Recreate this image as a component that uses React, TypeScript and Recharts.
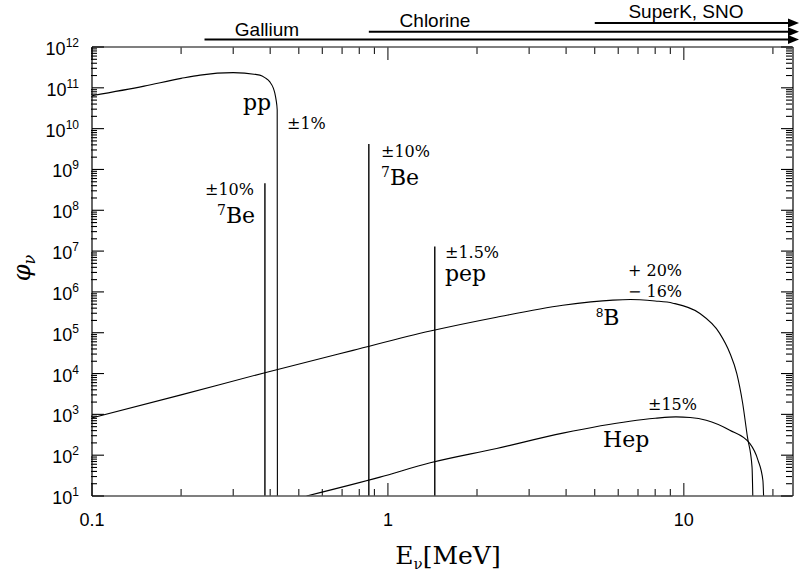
import { LineChart, Line, XAxis, YAxis, ReferenceLine } from 'recharts';

// neutrino energies (MeV) and fluxes
const ppEnergy = [0.1, 0.15, 0.2, 0.232, 0.3, 0.369, 0.385, 0.399, 0.41, 0.415, 0.419, 0.4225, 0.4232];
const ppFlux = [6.4e10, 1.1e11, 1.7e11, 2.05e11, 2.35e11, 2.05e11, 1.75e11, 1.4e11, 9.8e10, 7.3e10, 5e10, 2.9e10, 10];

const b8Energy = [0.1, 0.2, 0.384, 0.762, 1.39, 2.33, 3.9, 5.76, 6.6, 7.1, 8.0, 9.18, 11.3, 13.2, 14.3, 15.1, 15.8, 16.4, 17.0, 17.1];
const b8Flux = [820, 3.0e3, 1.05e4, 3.7e4, 1.1e5, 2.4e5, 4.7e5, 6.3e5, 6.5e5, 6.4e5, 6.0e5, 5.3e5, 3.0e5, 9.8e4, 3.2e4, 1.0e4, 1.9e3, 280, 51, 10];

const hepEnergy = [0.531, 0.94, 1.39, 2.33, 3.9, 6.57, 8.0, 9.4, 10.5, 11.9, 14.3, 16.7, 17.8, 18.5, 18.6];
const hepFlux = [10, 29, 65, 146, 347, 680, 800, 870, 840, 720, 410, 195, 76, 24, 10];

// line sources: energy and peak flux
const lineEnergy = [0.384, 0.862, 1.44];
const lineFlux = [4.6e8, 4.2e9, 1.3e7];

// detector thresholds (MeV) and the row each arrow sits on
const detectors = ['Gallium', 'Chlorine', 'SuperK, SNO'];
const detectorThreshold = [0.24, 0.862, 5.0];
const detectorRow = [1.53e12, 2.37e12, 3.87e12];

const xDomain = [0.1, 23.2];
const yDomain = [10, 1e12];

const xMajor = [0.1, 1, 10];
const xMinor = [0.2, 0.3, 0.4, 0.5, 0.6, 0.7, 0.8, 0.9, 2, 3, 4, 5, 6, 7, 8, 9, 20];
const yMajor = [1e1, 1e2, 1e3, 1e4, 1e5, 1e6, 1e7, 1e8, 1e9, 1e10, 1e11, 1e12];
const yMinor = yMajor.slice(0, -1).flatMap((d) => [2, 3, 4, 5, 6, 7, 8, 9].map((m) => m * d));

const pts = (es: number[], fs: number[]) => es.map((e, i) => ({ e, f: fs[i] }));

const sans = 'Liberation Sans, Arial, sans-serif';
const serif = 'DejaVu Serif, serif';
const tickStroke = { stroke: '#000', strokeWidth: 1.1 };

const YLabel = ({ y, payload }: any) => (
  <text x={79} y={y + 8} textAnchor="end" fontFamily={sans} fontSize={18} fill="#000">
    10<tspan dy={-8} fontSize={12}>{Math.round(Math.log10(payload.value))}</tspan>
  </text>
);
const NoLabel = () => <g />;

const XLabel = ({ x, y, payload }: any) => (
  <text x={x} y={y + 30} textAnchor="middle" fontFamily={sans} fontSize={18} fill="#000">
    {String(payload.value)}
  </text>
);

const xStub = (len: number) => (p: any) => {
  const t = Math.min(p.y1, p.y2);
  const b = Math.max(p.y1, p.y2);
  return (
    <g stroke="#000" strokeWidth={1}>
      <line x1={p.x1} x2={p.x1} y1={t} y2={t + len} />
      <line x1={p.x1} x2={p.x1} y1={b - len} y2={b} />
    </g>
  );
};

const Arrow = (props: any) => {
  const { x1, y1, x2, y2 } = props;
  return (
    <g>
      <line x1={x1} y1={y1} x2={x2 - 8} y2={y2} stroke="#000" strokeWidth={2} />
      <polygon points={`${x2},${y2} ${x2 - 11},${y2 - 4.5} ${x2 - 11},${y2 + 4.5}`} fill="#000" />
    </g>
  );
};

const detectorLabelPos = [
  { x: 267, y: 36 },
  { x: 435, y: 27 },
  { x: 686, y: 18 },
];

const yAxisBase = {
  dataKey: 'f',
  type: 'number' as const,
  scale: 'log' as const,
  domain: yDomain,
  allowDataOverflow: true,
  interval: 0 as const,
  width: 1,
  tickMargin: 0,
};

export default function App() {
  return (
    <div style={{ position: 'absolute', left: 0, top: 0 }}>
      <LineChart width={800} height={573} margin={{ top: 46, right: 6, bottom: 76, left: 90 }}>
        <XAxis
          dataKey="e"
          type="number"
          scale="log"
          domain={xDomain}
          allowDataOverflow
          ticks={xMajor}
          interval={0}
          height={1}
          tickSize={0}
          tickMargin={0}
          tickLine={false}
          axisLine={{ stroke: '#555', strokeWidth: 1.6 }}
          tick={XLabel}
        />
        <XAxis
          xAxisId="top"
          orientation="top"
          dataKey="e"
          type="number"
          scale="log"
          domain={xDomain}
          allowDataOverflow
          ticks={xMajor}
          height={1}
          tickLine={false}
          tick={false}
          axisLine={{ stroke: '#555', strokeWidth: 1.6 }}
        />
        <YAxis {...yAxisBase} ticks={yMajor} tickSize={-12} tickLine={tickStroke} axisLine={{ stroke: '#000', strokeWidth: 1.2 }} tick={YLabel} />
        <YAxis {...yAxisBase} yAxisId="minL" ticks={yMinor} tickSize={-6} tickLine={tickStroke} axisLine={false} tick={NoLabel} />
        <YAxis
          {...yAxisBase}
          yAxisId="right"
          orientation="right"
          ticks={yMajor}
          tickSize={-12}
          tickLine={tickStroke}
          axisLine={{ stroke: '#000', strokeWidth: 1.2 }}
          tick={NoLabel}
        />
        <YAxis {...yAxisBase} yAxisId="minR" orientation="right" ticks={yMinor} tickSize={-6} tickLine={tickStroke} axisLine={false} tick={NoLabel} />

        {xMajor.map((v) => (
          <ReferenceLine key={'xm' + v} x={v} shape={xStub(13)} />
        ))}
        {xMinor.map((v) => (
          <ReferenceLine key={'xn' + v} x={v} shape={xStub(7)} />
        ))}

        <Line data={pts(ppEnergy, ppFlux)} dataKey="f" type="monotone" stroke="#000" strokeWidth={1.1} dot={false} isAnimationActive={false} />
        <Line data={pts(b8Energy, b8Flux)} dataKey="f" type="monotone" stroke="#000" strokeWidth={1.1} dot={false} isAnimationActive={false} />
        <Line data={pts(hepEnergy, hepFlux)} dataKey="f" type="monotone" stroke="#000" strokeWidth={1.1} dot={false} isAnimationActive={false} />
        {lineEnergy.map((e, i) => (
          <Line
            key={e}
            data={[{ e, f: 10 }, { e, f: lineFlux[i] }]}
            dataKey="f"
            type="linear"
            stroke="#000"
            strokeWidth={1.4}
            dot={false}
            isAnimationActive={false}
          />
        ))}

        {detectors.map((d, i) => (
          <ReferenceLine
            key={d}
            segment={[
              { x: detectorThreshold[i], y: detectorRow[i] },
              { x: 24.5, y: detectorRow[i] },
            ]}
            ifOverflow="visible"
            shape={Arrow}
          />
        ))}
        {detectors.map((d, i) => (
          <text key={d} x={detectorLabelPos[i].x} y={detectorLabelPos[i].y} textAnchor="middle" fontFamily={sans} fontSize={19} fill="#000">
            {d}
          </text>
        ))}

        <g fontFamily={serif} fill="#000">
          <text x={243} y={110} fontSize={22}>pp</text>
          <text x={287} y={129} fontSize={16}>±1%</text>
          <text x={205} y={195} fontSize={16}>±10%</text>
          <text x={217} y={223} fontSize={22}>
            <tspan fontSize={14} dy={-8}>7</tspan>
            <tspan dy={8}>Be</tspan>
          </text>
          <text x={381} y={157} fontSize={16}>±10%</text>
          <text x={381} y={185} fontSize={22}>
            <tspan fontSize={14} dy={-8}>7</tspan>
            <tspan dy={8}>Be</tspan>
          </text>
          <text x={445} y={258} fontSize={16}>±1.5%</text>
          <text x={445} y={281} fontSize={22}>pep</text>
          <text x={628} y={276} fontSize={16}>+ 20%</text>
          <text x={628} y={297} fontSize={16}>{'\u2212'} 16%</text>
          <text x={596} y={325} fontSize={22}>
            <tspan fontSize={13} dy={-8} fontFamily={sans}>8</tspan>
            <tspan dy={8}>B</tspan>
          </text>
          <text x={648} y={410} fontSize={16}>±15%</text>
          <text x={603} y={447} fontSize={22}>Hep</text>
        </g>

        <text x={30} y={268} transform="rotate(-90, 30, 268)" textAnchor="middle" fontFamily={serif} fontSize={24} fontStyle="italic" fill="#000">
          φ<tspan fontSize={16} dy={5}>ν</tspan>
        </text>
        <text x={448} y={564} textAnchor="middle" fontFamily={serif} fontSize={25} fill="#000">
          E<tspan fontSize={15} dy={5}>ν</tspan>
          <tspan dy={-5}>[MeV]</tspan>
        </text>
      </LineChart>
    </div>
  );
}
